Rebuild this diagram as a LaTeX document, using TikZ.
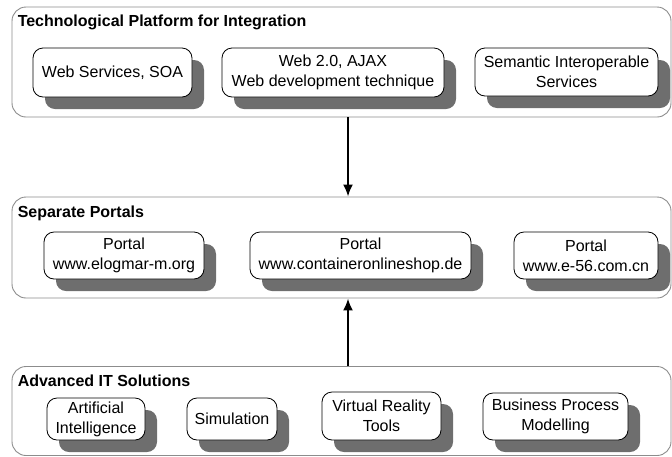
\documentclass[tikz,border=0pt]{standalone}
\usepackage{fontspec}
\setmainfont{Liberation Sans}
\usetikzlibrary{arrows.meta,shadows,positioning}

\begin{document}
\begin{tikzpicture}[x = 1pt, y = -1pt]
  \useasboundingbox (0,0) rectangle (672,456);
  \tikzset{GroupStyle/.style = {draw            = black!45,
                                line width      = 0.9pt,
                                rounded corners = 14pt,
                                inner sep       = 0pt,
                                minimum width   = 659pt}}
  \tikzset{BoxStyle/.style   = {draw            = black,
                                fill            = white,
                                line width      = 0.8pt,
                                rounded corners = 10pt,
                                align           = center,
                                inner sep       = 0pt,
                                font            = \fontsize{16}{20}\selectfont,
                                drop shadow     = {shadow xshift = 12pt,
                                                   shadow yshift = -12pt,
                                                   fill          = black!57,
                                                   opacity       = 1}}}
  \tikzset{TitleStyle/.style = {anchor          = base west,
                                inner sep       = 0pt,
                                font            = \fontsize{16}{20}\selectfont\bfseries}}
  \tikzset{ArrowStyle/.style = {line width      = 2pt,
                                -{Latex[length = 12pt, width = 10pt]}}}
     % the three layers
     \node[GroupStyle, minimum height = 110pt](Tech) at (341.5,62) {};
     \node[GroupStyle, minimum height = 101pt](Portals) at (341.5,247.5) {};
     \node[GroupStyle, minimum height = 89pt](ITSol) at (341.5,411) {};
     \node[TitleStyle] at ([xshift = 6pt, yshift = -20pt]Tech.north west)
          {Technological Platform for Integration};
     \node[TitleStyle] at ([xshift = 6pt, yshift = -20.5pt]Portals.north west)
          {Separate Portals};
     \node[TitleStyle] at ([xshift = 6pt, yshift = -20.5pt]ITSol.north west)
          {Advanced IT Solutions};
     % technological platform
     \node[BoxStyle, minimum width = 159pt, minimum height = 49pt](A) at (112.5,72.5)
          {Web Services, SOA};
     \node[BoxStyle, minimum width = 222pt, minimum height = 49pt](B) at (333,72.5)
          {Web 2.0, AJAX\\Web development technique};
     \node[BoxStyle, minimum width = 183pt, minimum height = 48pt](C) at (566.5,72)
          {Semantic Interoperable\\Services};
     % portals
     \node[BoxStyle, minimum width = 160pt, minimum height = 47pt](D) at (124,255.5)
          {Portal\\www.elogmar-m.org};
     \node[BoxStyle, minimum width = 221pt, minimum height = 47pt](E) at (360.5,255.5)
          {Portal\\www.containeronlineshop.de};
     \node[BoxStyle, minimum width = 144pt, minimum height = 47pt](F) at (586,255.5)
          {Portal\\www.e-56.com.cn};
     % IT solutions
     \node[BoxStyle, minimum width = 98pt, minimum height = 42pt](G) at (96,419)
          {Artificial\\Intelligence};
     \node[BoxStyle, minimum width = 90pt, minimum height = 42pt](H) at (232,419)
          {Simulation};
     \node[BoxStyle, minimum width = 119pt, minimum height = 48pt](I) at (381.5,416)
          {Virtual Reality\\Tools};
     \node[BoxStyle, minimum width = 145pt, minimum height = 47pt](J) at (555.5,416.5)
          {Business Process\\Modelling};
     % links between layers
     \draw[ArrowStyle]([xshift = 6.5pt]Tech.south) -- ([xshift = 6.5pt]Portals.north);
     \draw[ArrowStyle]([xshift = 6.5pt]ITSol.north) -- ([xshift = 6.5pt]Portals.south);
\end{tikzpicture}
\end{document}
